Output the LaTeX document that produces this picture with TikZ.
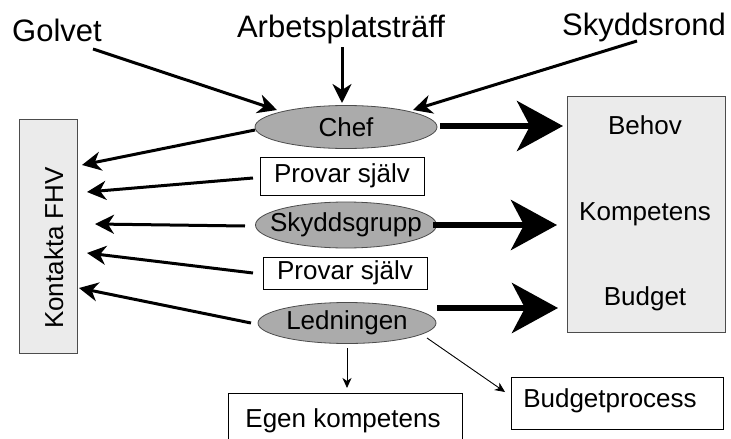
\documentclass[tikz,border=0pt]{standalone}
\usepackage{fontspec}
\setmainfont{Liberation Sans}
\usetikzlibrary{arrows.meta,shapes.geometric,calc}
\begin{document}
\begin{tikzpicture}[x=1pt,y=-1pt,
  big/.style={font=\fontsize{31}{36}\selectfont},
  mid/.style={font=\fontsize{26}{30}\selectfont},
  oval/.style={ellipse, draw=black!70, line width=0.8pt, fill=black!33, inner sep=0pt},
  wbox/.style={rectangle, draw=black, line width=0.9pt, fill=white, inner sep=0pt, mid},
  gbox/.style={rectangle, draw=black!70, line width=0.9pt, fill=black!8, inner sep=0pt},
  arr/.style={-{Stealth[length=19pt,width=19pt,inset=6pt]}, line width=3pt},
  fat/.style={-{Stealth[length=46pt,width=50pt,inset=13pt]}, line width=6pt},
  slim/.style={-{Stealth[length=10pt,width=9pt,inset=3pt]}, line width=0.9pt},
]
\clip (0,0) rectangle (731,439);
\fill[white] (0,0) rectangle (731,439);

% top labels
\node[big, anchor=base] (golvet) at (57,41) {Golvet};
\node[big, anchor=base] (arb) at (341,37) {Arbetsplatsträff};
\node[big, anchor=base] (skr) at (644,35) {Skyddsrond};

% middle column
\node[oval, minimum width=182pt, minimum height=43pt,
      label={[mid]center:Chef}] (chef) at (346,127) {};
\node[wbox, minimum width=164pt, minimum height=38pt] (p1) at (342,176) {Provar själv};
\node[oval, minimum width=181pt, minimum height=46pt,
      label={[mid]center:Skyddsgrupp}] (sg) at (346,225) {};
\node[wbox, minimum width=164pt, minimum height=32pt] (p2) at (345,273) {Provar själv};
\node[oval, minimum width=178pt, minimum height=41pt,
      label={[mid]center:Ledningen}] (led) at (347,323) {};

% left box
\node[gbox, minimum width=58pt, minimum height=234pt] (kbox) at (48,236) {};
\node[mid, rotate=90, anchor=base] (kt) at (63,248) {Kontakta FHV};

% right box
\node[gbox, minimum width=158pt, minimum height=236pt] (rbox) at (646,214) {};
\node[mid, anchor=base] (behov) at (645,134) {Behov};
\node[mid, anchor=base] (komp) at (645,220) {Kompetens};
\node[mid, anchor=base] (budg) at (645,305) {Budget};

% bottom boxes
\node[wbox, minimum width=234pt, minimum height=60pt] (egen) at (345,423) {};
\node[mid, anchor=base] (egent) at (343,427) {Egen kompetens};
\node[wbox, minimum width=212pt, minimum height=52pt] (bp) at (617,403) {};
\node[mid, anchor=base] (bpt) at (610,407) {Budgetprocess};

% connector end points
\coordinate (g0) at (93,49);   \coordinate (g1) at (277,110);
\coordinate (a0) at (342,47);  \coordinate (a1) at (342,103);
\coordinate (s0) at (637,41);  \coordinate (s1) at (413,110);

\coordinate (c0) at (255,130); \coordinate (k1) at (82,165);
\coordinate (q0) at (253,178); \coordinate (k2) at (87,192);
\coordinate (y0) at (245,226); \coordinate (k3) at (95,224);
\coordinate (r0) at (253,273); \coordinate (k4) at (87,253);
\coordinate (l0) at (251,323); \coordinate (k5) at (79,288);

\coordinate (fc0) at (440,126); \coordinate (fc1) at (563,126);
\coordinate (fs0) at (433,225); \coordinate (fs1) at (557,225);
\coordinate (fl0) at (437,308); \coordinate (fl1) at (558,308);

\coordinate (d0) at (347,348); \coordinate (d1) at (347,388);
\coordinate (e0) at (427,338); \coordinate (e1) at (505,392);

% arrows into Chef
\draw[arr] (g0) -- (g1);
\draw[arr] (a0) -- (a1);
\draw[arr] (s0) -- (s1);

% arrows to Kontakta FHV
\draw[arr] (c0) -- (k1);
\draw[arr] (q0) -- (k2);
\draw[arr] (y0) -- (k3);
\draw[arr] (r0) -- (k4);
\draw[arr] (l0) -- (k5);

% fat arrows
\draw[fat] (fc0) -- (fc1);
\draw[fat] (fs0) -- (fs1);
\draw[fat] (fl0) -- (fl1);

% thin arrows
\draw[slim] (d0) -- (d1);
\draw[slim] (e0) -- (e1);
\end{tikzpicture}
\end{document}
